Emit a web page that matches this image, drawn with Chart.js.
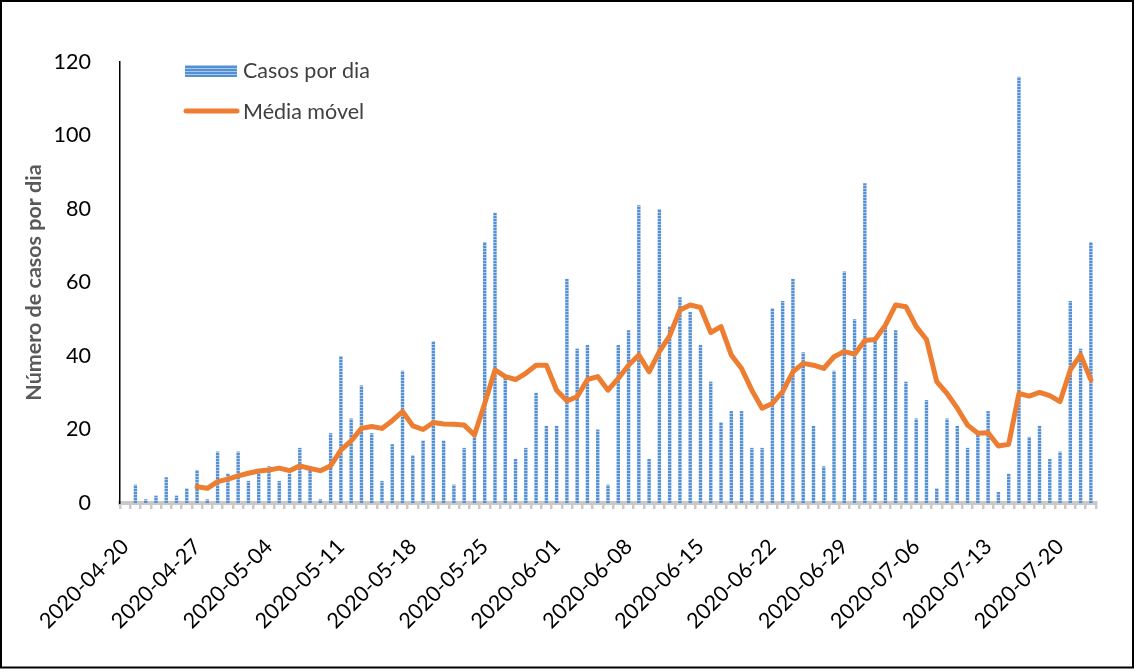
<!DOCTYPE html>
<html>
<head>
<meta charset="utf-8">
<script src="https://cdn.jsdelivr.net/npm/chart.js@4.4.1/dist/chart.umd.min.js"></script>
<style>
    html, body { margin: 0; padding: 0; background: #fff; }
    canvas { display: block; }
</style>
</head>
<body>
<canvas id="casesChart" width="1136" height="672"></canvas>
<script>
// daily categories start here, one per day
const startDay = [2020, 3, 20];
const dayCount = 95;

const tickLabels = [
    "2020-04-20", "2020-04-27", "2020-05-04", "2020-05-11", "2020-05-18",
    "2020-05-25", "2020-06-01", "2020-06-08", "2020-06-15", "2020-06-22",
    "2020-06-29", "2020-07-06", "2020-07-13", "2020-07-20"
];

const dailyCases = [
    0, 5, 1, 2, 7, 2, 4, 9, 1, 14, 8, 14, 6, 9, 10, 6, 8, 15, 10, 1,
    19, 40, 23, 32, 19, 6, 16, 36, 13, 17, 44, 17, 5, 15, 19, 71, 79, 34, 12, 15,
    30, 21, 21, 61, 42, 43, 20, 5, 43, 47, 81, 12, 80, 48, 56, 52, 43, 33, 22, 25,
    25, 15, 15, 53, 55, 61, 41, 21, 10, 36, 63, 50, 87, 44, 48, 47, 33, 23, 28, 4,
    23, 21, 15, 19, 25, 3, 8, 116, 18, 21, 12, 14, 55, 42, 71
];

const movingAvg = [
    null, null, null, null, null, null, null, 4.4, 4.0, 5.8,
    6.5, 7.4, 8.1, 8.7, 9.0, 9.5, 8.8, 10.1, 9.4, 8.8,
    10.1, 14.4, 16.9, 20.3, 20.8, 20.3, 22.4, 24.9, 21.0, 20.0,
    21.9, 21.5, 21.4, 21.2, 18.5, 27.1, 36.2, 34.4, 33.6, 35.3,
    37.5, 37.5, 30.7, 27.8, 28.9, 33.6, 34.4, 30.7, 33.9, 37.5,
    40.3, 35.7, 41.2, 45.5, 52.5, 53.9, 53.2, 46.4, 48.0, 40.3,
    36.6, 30.7, 25.8, 27.1, 30.3, 35.7, 38.0, 37.5, 36.6, 39.8,
    41.2, 40.5, 44.2, 44.5, 48.4, 53.9, 53.4, 48.0, 44.5, 33.0,
    29.8, 25.8, 21.2, 19.0, 19.1, 15.5, 16.0, 29.8, 29.1, 30.1,
    29.2, 27.6, 36.2, 40.3, 33.5
];

const days = [];
for (let i = 0; i < dayCount; i++) {
    const d = new Date(Date.UTC(startDay[0], startDay[1], startDay[2] + i));
    days.push(d.toISOString().slice(0, 10));
}

const canvas = document.getElementById("casesChart");
const ctx = canvas.getContext("2d");

function stripePattern(context) {
    const tile = document.createElement("canvas");
    tile.width = 4;
    tile.height = 3;
    const t = tile.getContext("2d");
    t.fillStyle = "#5590d2";
    t.fillRect(0, 0, 4, 3);
    t.fillStyle = "#a8c8ec";
    t.fillRect(0, 2, 4, 1);
    return context.createPattern(tile, "repeat");
}

const barFill = stripePattern(ctx);
const FONT = "Lato, 'Open Sans', sans-serif";

// legend sits inside the plot, top left, plus the black frame round the picture
const frameAndLegend = {
    id: "frameAndLegend",
    beforeDraw(chart) {
        const c = chart.ctx;
        c.save();
        c.fillStyle = "#fff";
        c.fillRect(0, 0, chart.width, chart.height);
        c.restore();
    },
    afterDraw(chart) {
        const c = chart.ctx;
        const sets = chart.data.datasets;
        const bars = sets.find(s => s.type === "bar");
        const line = sets.find(s => s.type === "line");
        c.save();
        c.fillStyle = bars.backgroundColor;
        c.fillRect(185, 65, 52, 12);
        c.strokeStyle = line.borderColor;
        c.lineWidth = 5;
        c.lineCap = "round";
        c.beginPath();
        c.moveTo(186, 111);
        c.lineTo(237, 111);
        c.stroke();
        c.fillStyle = "#404040";
        c.font = "21.5px " + FONT;
        c.textBaseline = "middle";
        c.fillText(bars.label, 243, 71);
        c.fillText(line.label, 243, 112);
        c.strokeStyle = "#000";
        c.lineWidth = 2;
        c.strokeRect(1, 1, 1132, 666.5);
        c.restore();
    }
};

new Chart(canvas, {
    type: "bar",
    data: {
        labels: days,
        datasets: [
            {
                type: "line",
                label: "Média móvel",
                data: movingAvg,
                borderColor: "#ed7d31",
                borderWidth: 5,
                borderJoinStyle: "round",
                borderCapStyle: "round",
                pointRadius: 0,
                tension: 0,
                spanGaps: false,
                order: 0
            },
            {
                type: "bar",
                label: "Casos por dia",
                data: dailyCases,
                backgroundColor: barFill,
                barPercentage: 0.33,
                categoryPercentage: 1,
                order: 1
            }
        ]
    },
    options: {
        responsive: false,
        animation: false,
        layout: {
            padding: { top: 62, right: 40, left: 0, bottom: 0 }
        },
        plugins: {
            legend: { display: false },
            tooltip: { enabled: false }
        },
        scales: {
            x: {
                offset: true,
                grid: {
                    display: true,
                    drawOnChartArea: false,
                    drawTicks: true,
                    tickLength: 6,
                    color: "#c9c9c9",
                    lineWidth: 2.5,
                    offset: true
                },
                border: { display: true, color: "#c9c9c9", width: 4 },
                ticks: {
                    autoSkip: false,
                    minRotation: 45,
                    maxRotation: 45,
                    padding: 25,
                    color: "#000",
                    font: { family: FONT, size: 21.5 },
                    callback: function (value) {
                        const label = this.getLabelForValue(value);
                        return tickLabels.includes(label) ? label : "";
                    }
                },
                afterFit: scale => { scale.height = 169; }
            },
            y: {
                min: 0,
                max: 120,
                grid: { display: false },
                border: { display: true, color: "#000", width: 1.5 },
                ticks: {
                    stepSize: 20,
                    padding: 21,
                    color: "#000",
                    font: { family: FONT, size: 21.5 }
                },
                title: {
                    display: true,
                    text: "Número de casos por dia",
                    color: "#595959",
                    font: { family: FONT, size: 21.5, weight: "bold" },
                    padding: { top: 21, bottom: 0 }
                },
                afterFit: scale => { scale.width = 120; }
            }
        }
    },
    plugins: [frameAndLegend]
});
</script>
</body>
</html>
